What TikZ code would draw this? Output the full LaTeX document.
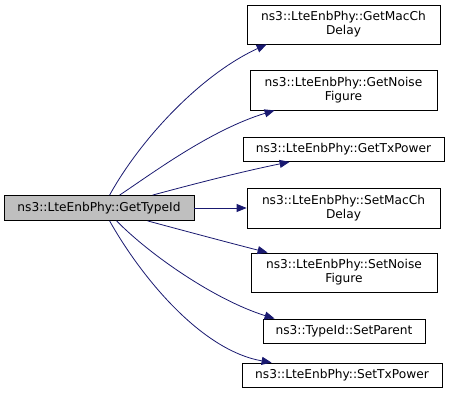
\documentclass[tikz,border=0pt]{standalone}
\usepackage{fontspec}
\setmainfont{DejaVu Sans}
\usetikzlibrary{arrows.meta}
\definecolor{edgeblue}{HTML}{191970}
\definecolor{mainfill}{HTML}{BFBFBF}
\begin{document}
\begin{tikzpicture}[x=1pt,y=-1pt,
  box/.style={draw=black,line width=0.8pt,fill=white,inner sep=0pt,align=center,
    font=\fontsize{12.2}{14}\selectfont},
  edge/.style={draw=edgeblue,line width=0.8pt,-{Triangle[length=10pt,width=8pt]}}]
\useasboundingbox (0,0) rectangle (451,401);
\node[box,fill=mainfill,minimum width=190pt,minimum height=25pt] (main) at (99,208) {ns3::LteEnbPhy::GetTypeId};
\node[box,minimum width=193pt,minimum height=39pt] (n1) at (343.5,24.5) {ns3::LteEnbPhy::GetMacCh\\Delay};
\node[box,minimum width=187pt,minimum height=40pt] (n2) at (343.5,90) {ns3::LteEnbPhy::GetNoise\\Figure};
\node[box,minimum width=201pt,minimum height=24pt] (n3) at (343.5,149.5) {ns3::LteEnbPhy::GetTxPower};
\node[box,minimum width=193pt,minimum height=40pt] (n4) at (343.5,208) {ns3::LteEnbPhy::SetMacCh\\Delay};
\node[box,minimum width=186pt,minimum height=39pt] (n5) at (344,272.5) {ns3::LteEnbPhy::SetNoise\\Figure};
\node[box,minimum width=162pt,minimum height=24pt] (n6) at (344,331) {ns3::TypeId::SetParent};
\node[box,minimum width=200pt,minimum height=24pt] (n7) at (342,375) {ns3::LteEnbPhy::SetTxPower};
\draw[edge] ([xshift=106pt]main.north west) .. controls (140,140) and (200,75) .. ([xshift=20pt]n1.south west);
\draw[edge] ([xshift=116pt]main.north west) .. controls (150,175) and (210,130) .. ([xshift=25pt]n2.south west);
\draw[edge] ([xshift=149pt]main.north west) .. controls (190,185) and (240,172) .. ([xshift=47pt]n3.south west);
\draw[edge] (main.east) -- (n4.west);
\draw[edge] ([xshift=144pt]main.south west) .. controls (185,231) and (230,243) .. ([xshift=17pt]n5.north west);
\draw[edge] ([xshift=113pt]main.south west) .. controls (150,255) and (215,300) .. ([xshift=12pt]n6.north west);
\draw[edge] ([xshift=106pt]main.south west) .. controls (140,275) and (200,350) .. ([xshift=30pt]n7.north west);
\end{tikzpicture}
\end{document}
